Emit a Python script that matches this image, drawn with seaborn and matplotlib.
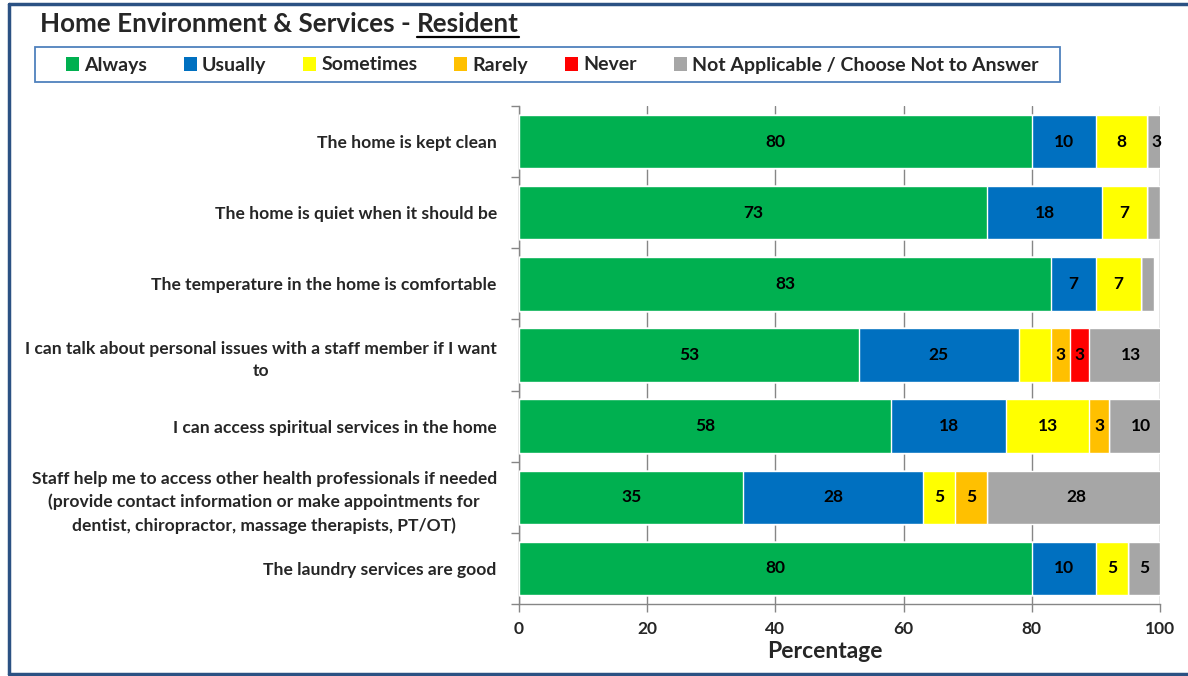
import numpy as np
import pandas as pd
import seaborn as sns
import matplotlib.pyplot as plt
from matplotlib.patches import Rectangle

# Survey statements (one bar each, top to bottom)
statements = [
    "The home is kept clean",
    "The home is quiet when it should be",
    "The temperature in the home is comfortable",
    "I can talk about personal issues with a staff member if I want\nto",
    "I can access spiritual services in the home",
    "Staff help me to access other health professionals if needed\n(provide contact information or make appointments for\ndentist, chiropractor, massage therapists, PT/OT)",
    "The laundry services are good",
]

# Response shares (%) per statement
always = [80, 73, 83, 53, 58, 35, 80]
usually = [10, 18, 7, 25, 18, 28, 10]
sometimes = [8, 7, 7, 5, 13, 5, 5]
rarely = [0, 0, 0, 3, 3, 5, 0]
never = [0, 0, 0, 3, 0, 0, 0]
not_applicable = [3, 2, 2, 13, 10, 28, 5]

series_names = ["Always", "Usually", "Sometimes", "Rarely", "Never",
                "Not Applicable / Choose Not to Answer"]
series_values = [always, usually, sometimes, rarely, never, not_applicable]
series_colors = ["#00B050", "#0070C0", "#FFFF00", "#FFC000", "#FF0000", "#A6A6A6"]

x_ticks = [0, 20, 40, 60, 80, 100]
x_label = "Percentage"

# segments whose value label is left off
unlabeled = {(3, "Sometimes")}

sns.set_theme(style="white")
plt.rcParams["font.family"] = ["Lato", "DejaVu Sans"]
plt.rcParams["font.weight"] = "bold"

W, H = 1188, 676
fig = plt.figure(figsize=(W / 100, H / 100), dpi=100)
ax = fig.add_axes([519 / W, 1 - 604 / H, 641 / W, 498 / H])

df = pd.DataFrame({"Statement": statements})
cum = np.zeros(len(statements))
starts = []
for name, vals in zip(series_names, series_values):
    starts.append(cum.copy())
    cum = cum + np.array(vals, dtype=float)
    df[name] = cum.copy()

# draw cumulative totals from the outermost series inward so they stack
for name, color in reversed(list(zip(series_names, series_colors))):
    sns.barplot(data=df, x=name, y="Statement", orient="h", color=color,
                saturation=1, width=0.75, ax=ax, zorder=3)

# value labels
for j, (name, vals) in enumerate(zip(series_names, series_values)):
    for i, v in enumerate(vals):
        if v < 3 or (i, name) in unlabeled:
            continue
        ax.text(starts[j][i] + v / 2, i, f"{v}", ha="center", va="center",
                fontsize=12.5, fontweight="bold", color="black", zorder=5)

ax.set_xlim(0, 100)
ax.set_ylim(len(statements) - 0.5, -0.5)
ax.set_xticks(x_ticks)
ax.set_xticklabels([str(t) for t in x_ticks], fontsize=12.5, fontweight="bold")
ax.set_xlabel(x_label, fontsize=16.5, fontweight="bold")
ax.xaxis.set_label_coords((825 - 519) / 641, -0.075)
ax.set_ylabel("")
ax.grid(axis="x", color="#868686", linewidth=1, zorder=0)
ax.set_axisbelow(True)

ax.set_yticks(range(len(statements)))
ax.set_yticklabels(statements, fontsize=12.6, fontweight="bold",
                   multialignment="center", linespacing=1.5)
ax.set_yticks(np.arange(-0.5, len(statements), 1.0), minor=True)
ax.tick_params(axis="y", which="major", length=0, pad=16)
ax.tick_params(axis="y", which="minor", length=6, color="#868686", width=1, left=True)
ax.tick_params(axis="x", which="major", length=6, color="#868686", width=1, bottom=True, pad=6)

for side in ["top", "right"]:
    ax.spines[side].set_visible(False)
for side in ["left", "bottom"]:
    ax.spines[side].set_color("#868686")
    ax.spines[side].set_linewidth(1)

# title with underlined audience
t1 = fig.text(40 / W, 1 - 32 / H, "Home Environment & Services - ", fontsize=18.7,
              fontweight="bold", ha="left", va="baseline")
fig.canvas.draw()
bb = t1.get_window_extent()
t2 = fig.text(bb.x1 / W, 1 - 32 / H, "Resident", fontsize=18.7, fontweight="bold",
              ha="left", va="baseline")
fig.canvas.draw()
bb2 = t2.get_window_extent()
fig.add_artist(plt.Line2D([bb2.x0 / W, bb2.x1 / W], [1 - 37 / H, 1 - 37 / H],
                          color="black", linewidth=1.6, transform=fig.transFigure))

# legend row: colour squares and labels on a shared baseline, inside a box
renderer = fig.canvas.get_renderer()
x_px, base_px, sq = 66.0, 70.5, 13
for name, color in zip(series_names, series_colors):
    fig.add_artist(Rectangle((x_px / W, 1 - base_px / H), sq / W, sq / H,
                             transform=fig.transFigure, facecolor=color,
                             edgecolor="none"))
    lt = fig.text((x_px + sq + 5) / W, 1 - base_px / H, name, fontsize=14,
                  fontweight="bold", ha="left", va="baseline")
    ext = lt.get_window_extent(renderer=renderer)
    x_px = ext.x1 + 37
fig.add_artist(Rectangle((35 / W, 1 - 82 / H), 1025 / W, 35 / H,
                         transform=fig.transFigure, fill=False,
                         edgecolor="#4F81BD", linewidth=1.3))

# outer frame (top, left, bottom edges)
frame_kw = dict(color="#2B5183", linewidth=2.5, transform=fig.transFigure)
fig.add_artist(plt.Line2D([8.5 / W, 1], [1 - 4 / H, 1 - 4 / H], **frame_kw))
fig.add_artist(plt.Line2D([8.5 / W, 8.5 / W], [1 - 4 / H, 1 - 674 / H], **frame_kw))
fig.add_artist(plt.Line2D([8.5 / W, 1], [1 - 674 / H, 1 - 674 / H], **frame_kw))

fig.savefig("out.png", dpi=100)
